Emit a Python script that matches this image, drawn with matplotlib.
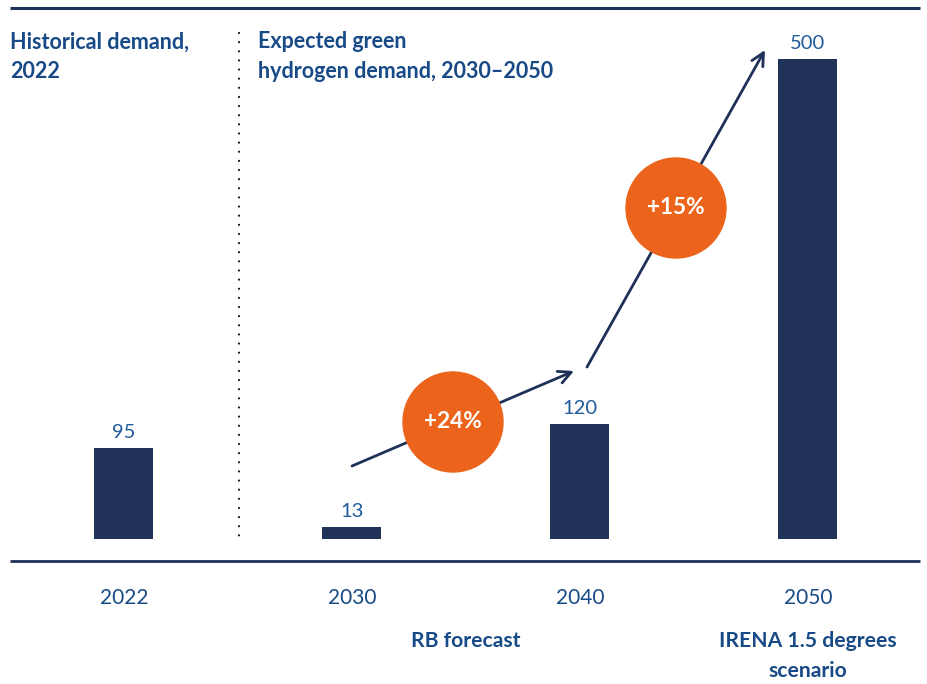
import matplotlib
matplotlib.use("Agg")
import matplotlib.pyplot as plt
from matplotlib.patches import Circle

# ---- data ----
years = ["2022", "2030", "2040", "2050"]
values = [95, 13, 120, 500]
growth_labels = ["+24%", "+15%"]
heading_left = ["Historical demand,", "2022"]
heading_right = ["Expected green", "hydrogen demand, 2030\u20132050"]
sub_labels = [["RB forecast"], ["IRENA 1.5 degrees", "scenario"]]

# ---- styles ----
W, H = 928, 684
BAR = "#22335a"
LINE = "#1f3158"
HEAD = "#174a86"
VAL = "#1f5b9c"
ORANGE = "#ec641c"
FONT = "Lato"

fig = plt.figure(figsize=(W / 100, H / 100), dpi=100)

# data axes (pixel mapping: category i -> x=124+228*i, value 0 -> y=539, 500 -> y=59)
ax = fig.add_axes([0, 0, 1, 1])
px_per_cat = 228.0
x0 = -124 / px_per_cat
ax.set_xlim(x0, x0 + W / px_per_cat)
ppu = 480 / 500.0
ax.set_ylim(-(H - 539) / ppu, 539 / ppu)
ax.axis("off")

xs = list(range(len(years)))
ax.bar(xs, values, width=59 / px_per_cat, color=BAR, zorder=2)
for x, v in zip(xs, values):
    ax.annotate(f"{v}", (x, v), xytext=(0, 5), textcoords="offset points",
                ha="center", va="bottom", fontsize=14.5, color=VAL,
                family=FONT)

# overlay axes in pixel coords
ov = fig.add_axes([0, 0, 1, 1], facecolor="none")
ov.set_xlim(0, W)
ov.set_ylim(H, 0)
ov.axis("off")

# horizontal rules
ov.plot([10, 920], [8, 8], color=LINE, lw=2.2, solid_capstyle="butt")
ov.plot([10, 920], [561, 561], color=LINE, lw=2.0, solid_capstyle="butt")

# dotted separator
ov.plot([239, 239], [33, 540], color="#111111", lw=1.6,
        linestyle=(0, (0.01, 4.1)), dash_capstyle="round")

# headings
for xh, lines in [(10, heading_left), (258, heading_right)]:
    for k, line in enumerate(lines):
        ov.text(xh, 42 + 30 * k, line, ha="left", va="center", fontsize=15.5,
                fontweight="bold", color=HEAD, family=FONT)

# tick labels
for i, y in enumerate(years):
    ov.text(124 + 228 * i, 598, y, ha="center", va="center", fontsize=15,
            color=HEAD, family=FONT)

# sub labels
for cx, lines in zip([466, 808], sub_labels):
    for k, line in enumerate(lines):
        ov.text(cx, 641 + 30 * k, line, ha="center", va="center", fontsize=15.2,
                fontweight="bold", color=HEAD, family=FONT)

# arrows
arrow_kw = dict(arrowstyle="->,head_length=0.9,head_width=0.45",
                color=LINE, lw=2.0, shrinkA=0, shrinkB=0)
ov.annotate("", xy=(574, 371), xytext=(352, 466), arrowprops=arrow_kw, zorder=3)
ov.annotate("", xy=(765, 50), xytext=(587, 367), arrowprops=arrow_kw, zorder=3)

# growth circles
for (cx, cy), lab in zip([(453, 422), (676, 208)], growth_labels):
    ov.add_patch(Circle((cx, cy), 50, color=ORANGE, zorder=4))
    ov.text(cx, cy, lab, ha="center", va="center", fontsize=16.3,
            fontweight="bold", color="white", family=FONT, zorder=5)

fig.savefig("out.png", dpi=100)
